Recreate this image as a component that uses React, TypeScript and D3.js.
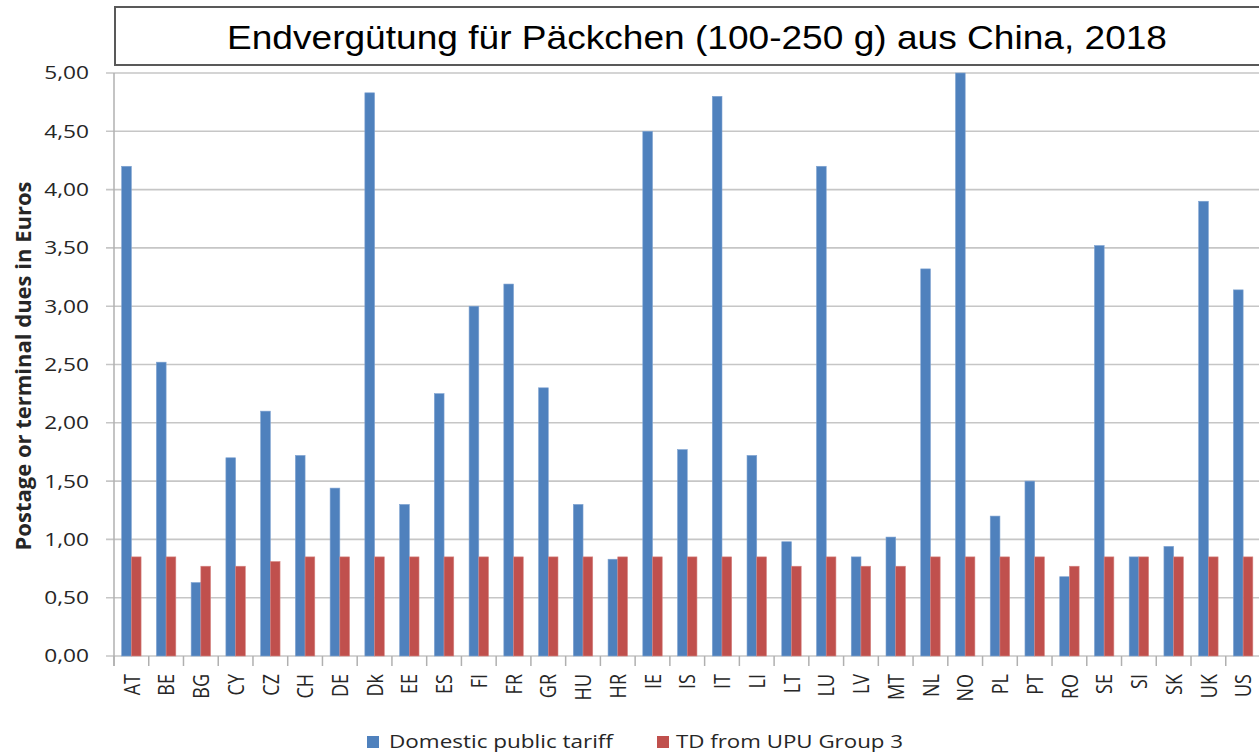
import React from "react";
import * as d3 from "d3";

const categories = ["AT","BE","BG","CY","CZ","CH","DE","Dk","EE","ES","FI","FR","GR","HU","HR","IE","IS","IT","LI","LT","LU","LV","MT","NL","NO","PL","PT","RO","SE","SI","SK","UK","US"];
const domesticTariff = [4.20,2.52,0.63,1.70,2.10,1.72,1.44,4.83,1.30,2.25,3.00,3.19,2.30,1.30,0.83,4.50,1.77,4.80,1.72,0.98,4.20,0.85,1.02,3.32,5.00,1.20,1.50,0.68,3.52,0.85,0.94,3.90,3.14];
const upuGroup3 = [0.85,0.85,0.77,0.77,0.81,0.85,0.85,0.85,0.85,0.85,0.85,0.85,0.85,0.85,0.85,0.85,0.85,0.85,0.85,0.77,0.85,0.77,0.77,0.85,0.85,0.85,0.85,0.77,0.85,0.85,0.85,0.85,0.85];
const yTicks = [0,0.5,1,1.5,2,2.5,3,3.5,4,4.5,5];
const seriesNames = ["Domestic public tariff","TD from UPU Group 3"];
const title = "Endvergütung für Päckchen (100-250 g) aus China, 2018";
const yTitle = "Postage or terminal dues in Euros";

const W = 1259, H = 754;
const left = 114, right = 1260.5, top = 73, bottom = 656;
const BLUE = "#4F81BD", RED = "#C0504D";
const FONT = "'Open Sans', sans-serif";
const SX = 1.26;

export default function App() {
  const x = d3.scaleBand<string>().domain(categories).range([left, right]).paddingInner(0).paddingOuter(0);
  const sub = d3.scaleBand<string>().domain(["d","t"]).range([0, x.step()]).paddingInner(0).paddingOuter(0.79);
  const y = d3.scaleLinear().domain([0, 5]).range([bottom, top]);
  const fmt = (v: number) => v.toFixed(2).replace(".", ",");
  const boundaries = d3.range(categories.length + 1).map(i => left + i * x.step());

  return (
    <svg width={W} height={H} style={{ position: "absolute", left: 0, top: 0, background: "#fff" }}>
      <rect x={0} y={0} width={W} height={H} fill="#fff" />
      {yTicks.map(t => (
        <line key={"g"+t} x1={left - 8} x2={W} y1={y(t)} y2={y(t)} stroke="#C6C6C6" strokeWidth={1.6} />
      ))}
      <line x1={left} x2={left} y1={top} y2={bottom + 10} stroke="#B0B0B0" strokeWidth={1.5} />
      {boundaries.map((b, i) => (
        <line key={"xt"+i} x1={b} x2={b} y1={bottom} y2={bottom + 10} stroke="#B0B0B0" strokeWidth={1.5} />
      ))}
      {categories.map((c, i) => (
        <g key={c}>
          <rect x={(x(c) as number) + (sub("d") as number)} y={y(domesticTariff[i])} width={sub.bandwidth()} height={bottom - y(domesticTariff[i])} fill={BLUE} stroke="#7FA3D1" strokeWidth={0.6} />
          <rect x={(x(c) as number) + (sub("t") as number)} y={y(upuGroup3[i])} width={sub.bandwidth()} height={bottom - y(upuGroup3[i])} fill={RED} stroke="#D58481" strokeWidth={0.6} />
        </g>
      ))}
      {yTicks.map(t => (
        <text key={"yl"+t} transform={`translate(89,${y(t)}) scale(${SX},1)`} dy="0.36em" textAnchor="end" fontFamily={FONT} fontSize={18} fill="#262626">{fmt(t)}</text>
      ))}
      {categories.map(c => {
        const cx = (x(c) as number) + x.bandwidth() / 2;
        return (
          <text key={"xl"+c} transform={`translate(${cx},674) scale(${SX},1) rotate(-90)`} textAnchor="end" dy="0.36em" fontFamily={FONT} fontSize={18} fill="#262626">{c}</text>
        );
      })}
      <text transform={`translate(31,366) rotate(-90)`} textAnchor="middle" fontFamily={FONT} fontWeight="bold" fontSize={22} fill="#262626">{yTitle}</text>
      <rect x={115} y={7} width={1165} height={58} fill="#fff" stroke="#595959" strokeWidth={2} />
      <text x={227} y={49} textLength={940} lengthAdjust="spacingAndGlyphs" fontFamily="'Liberation Sans', Arial, sans-serif" fontSize={33.5} fill="#000">{title}</text>
      <rect x={367} y={736} width={12} height={12} fill={BLUE} />
      <text x={389} y={748} textLength={224} lengthAdjust="spacingAndGlyphs" fontFamily={FONT} fontSize={18} fill="#262626">{seriesNames[0]}</text>
      <rect x={657} y={736} width={12} height={12} fill={RED} />
      <text x={676} y={748} textLength={227} lengthAdjust="spacingAndGlyphs" fontFamily={FONT} fontSize={18} fill="#262626">{seriesNames[1]}</text>
    </svg>
  );
}
